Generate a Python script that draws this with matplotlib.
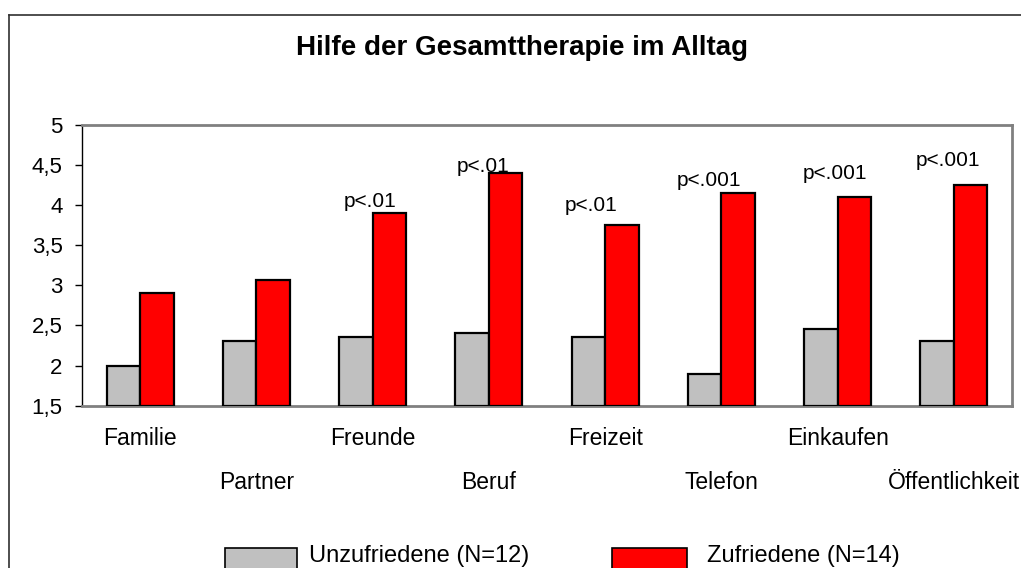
import matplotlib
matplotlib.use("Agg")
import matplotlib.pyplot as plt
import numpy as np
from matplotlib.lines import Line2D
from matplotlib.patches import Rectangle

plt.rcParams['font.family'] = ['Liberation Sans', 'DejaVu Sans']

title = "Hilfe der Gesamttherapie im Alltag"
categories = ["Familie", "Partner", "Freunde", "Beruf", "Freizeit", "Telefon",
              "Einkaufen", "Öffentlichkeit"]
series_names = ["Unzufriedene (N=12)", "Zufriedene (N=14)"]
series_colors = ["#c0c0c0", "#ff0000"]
unzufrieden = [2.0, 2.3, 2.35, 2.4, 2.35, 1.9, 2.45, 2.3]
zufrieden = [2.9, 3.07, 3.9, 4.4, 3.75, 4.15, 4.1, 4.25]
p_labels = ["", "", "p<.01", "p<.01", "p<.01", "p<.001", "p<.001", "p<.001"]
y_ticks = [1.5, 2, 2.5, 3, 3.5, 4, 4.5, 5]
y_ticklabels = ["1,5", "2", "2,5", "3", "3,5", "4", "4,5", "5"]

# label layout (offsets in category units / value units)
label_dx = [0, 0, -0.02, -0.05, -0.12, -0.11, -0.02, -0.05]
label_dy = [0, 0, 0.15, 0.08, 0.25, 0.16, 0.29, 0.31]

W, H = 1021, 568
fig = plt.figure(figsize=(W / 100, H / 100), dpi=100)
ax = fig.add_axes([82 / W, 1 - 405.6 / H, (1012 - 82) / W, (405.6 - 125) / H])

x = np.arange(len(categories))
bw = 0.288
ax.bar(x - bw / 2, [v - 1.5 for v in unzufrieden], bw, bottom=1.5, color=series_colors[0],
       edgecolor="black", linewidth=1.6, label=series_names[0], zorder=3)
ax.bar(x + bw / 2, [v - 1.5 for v in zufrieden], bw, bottom=1.5, color=series_colors[1],
       edgecolor="black", linewidth=1.6, label=series_names[1], zorder=3)

for i, lab in enumerate(p_labels):
    if lab:
        ax.text(x[i] + label_dx[i], zufrieden[i] + label_dy[i], lab, ha="center",
                va="center", fontsize=15, zorder=2)

ax.set_xlim(-0.5, len(categories) - 0.5)
ax.set_ylim(1.5, 5)
ax.set_yticks(y_ticks)
ax.set_yticklabels(y_ticklabels, fontsize=16)
ax.tick_params(axis="y", length=5, width=1, direction="out", pad=9)

ax.set_xticks(x[::2])
ax.set_xticklabels(categories[::2], fontsize=16.5)
ax.set_xticks(x[1::2], minor=True)
ax.set_xticklabels(categories[1::2], minor=True, fontsize=16.5)
ax.tick_params(axis="x", which="major", length=0, pad=15.5)
ax.tick_params(axis="x", which="minor", length=0, pad=47)

for s in ["top", "right", "bottom"]:
    ax.spines[s].set_color("#808080")
    ax.spines[s].set_linewidth(2)
ax.spines["left"].set_color("black")
ax.spines["left"].set_linewidth(1)

fig.text(522 / W, 1 - 48 / H, title, ha="center", va="center", fontsize=20,
         fontweight="bold")

# outer chart frame
fig.add_artist(Line2D([9 / W, 9 / W], [0, 1 - 15 / H], color="#303030", lw=1.2))
fig.add_artist(Line2D([9 / W, 1], [1 - 15 / H, 1 - 15 / H], color="#303030", lw=1.2))

# legend (keys partly below the picture edge, as in the reference)
legend_key_x = [225, 612]
legend_key_w = [72, 75]
legend_text_x = [309, 707]
for name, col, kx, kw, tx in zip(series_names, series_colors, legend_key_x,
                                 legend_key_w, legend_text_x):
    fig.add_artist(Rectangle((kx / W, 1 - 578 / H), kw / W, 30 / H,
                             transform=fig.transFigure, facecolor=col,
                             edgecolor="black", linewidth=1.2))
    fig.text(tx / W, 1 - 562 / H, name, ha="left", va="baseline", fontsize=17)

fig.savefig("out.png", dpi=100)
